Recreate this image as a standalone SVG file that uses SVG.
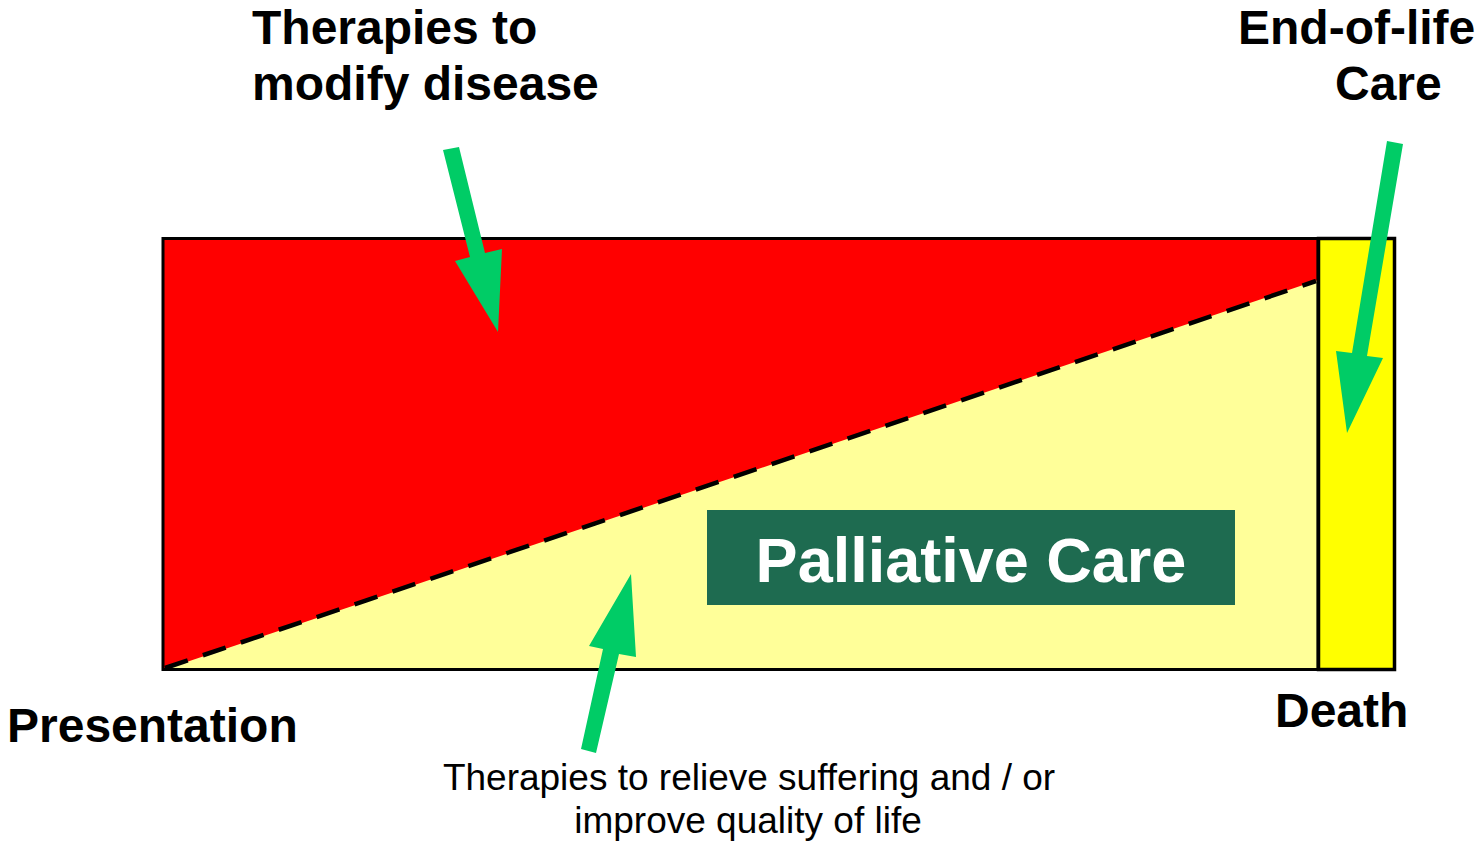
<svg xmlns="http://www.w3.org/2000/svg" width="1479" height="841" viewBox="0 0 1479 841">
  <style>
    .lbl { font-family: "Liberation Sans", Arial, sans-serif; font-weight: bold; font-size: 48px; fill: #000; }
    .sub { font-family: "Liberation Sans", Arial, sans-serif; font-size: 37px; fill: #000; }
    .arrow { fill: #00CC66; }
  </style>
  <rect width="1479" height="841" fill="#FFFFFF"/>
  <g id="timeline">
    <rect x="163" y="238.5" width="1155" height="431" fill="#FFFF99"/>
    <polygon points="163,238.5 1318,238.5 1318,280 163,670" fill="#FF0000"/>
    <line x1="165" y1="668" x2="1316" y2="281" stroke="#000" stroke-width="4.5" stroke-dasharray="24 16"/>
    <rect x="163" y="238.5" width="1155" height="431" fill="none" stroke="#000" stroke-width="3"/>
  </g>
  <g id="end-of-life-box">
    <rect x="1318.5" y="238.5" width="76" height="431" fill="#FFFF00" stroke="#000" stroke-width="3.5"/>
  </g>
  <g id="palliative-care">
    <rect x="707" y="510" width="528" height="95" fill="#1E6B50"/>
    <text x="971" y="582" text-anchor="middle" font-family="Liberation Sans, Arial, sans-serif" font-weight="bold" font-size="63" fill="#FFFFFF">Palliative Care</text>
  </g>
  <g id="label-modify">
    <text class="lbl" x="252" y="44">Therapies to</text>
    <text class="lbl" x="252" y="100">modify disease</text>
  </g>
  <g id="label-eol">
    <text class="lbl" x="1238" y="44">End-of-life</text>
    <text class="lbl" x="1335" y="100">Care</text>
  </g>
  <g id="label-presentation">
    <text class="lbl" x="7" y="742">Presentation</text>
  </g>
  <g id="label-death">
    <text class="lbl" x="1275" y="727">Death</text>
  </g>
  <g id="label-relieve">
    <text class="sub" x="749" y="790" text-anchor="middle">Therapies to relieve suffering and / or</text>
    <text class="sub" x="748" y="833" text-anchor="middle">improve quality of life</text>
  </g>
  <g id="connectors">
    <polygon class="arrow" points="443,150 459,147 485,253 502,249 498,332 455,261 470,257"/>
    <polygon class="arrow" points="1387,141 1403,144 1367,356 1383,358 1347,433 1336,351 1352,353"/>
    <polygon class="arrow" points="631,574 636,657 619,654 596,753 581,749 603,649 589,646"/>
  </g>
</svg>
